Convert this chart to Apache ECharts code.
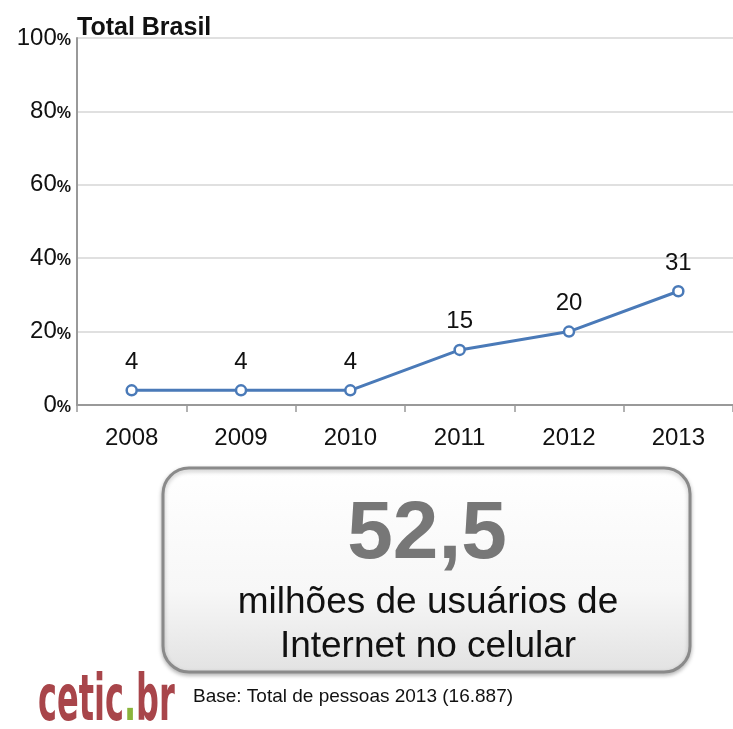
<!DOCTYPE html>
<html><head><meta charset="utf-8">
<script src="https://cdn.jsdelivr.net/npm/echarts@6/dist/echarts.min.js"></script>
<style>html,body{margin:0;padding:0;background:#fff}#c{width:733px;height:729px}</style>
</head><body><div id="c"></div>
<script>
const years = ['2008','2009','2010','2011','2012','2013'];
const values = [4, 4, 4, 15, 20, 31];
const yTicks = [0, 20, 40, 60, 80, 100];
const titleText = 'Total Brasil';
const bigNumber = '52,5';
const boxLine1 = 'milhões de usuários de';
const boxLine2 = 'Internet no celular';
const baseText = 'Base: Total de pessoas 2013 (16.887)';

const chart = echarts.init(document.getElementById('c'));
chart.setOption({
  animation: false,
  backgroundColor: '#fff',
  grid: { left: 77, top: 38, width: 668, height: 367, containLabel: false },
  xAxis: {
    type: 'category', data: years, boundaryGap: true,
    axisLine: { lineStyle: { color: '#999', width: 2 } },
    axisTick: { show: true, length: 7, inside: false, lineStyle: { color: '#999', width: 1.5 } },
    axisLabel: { color: '#111', fontSize: 24, fontFamily: 'Liberation Sans, Arial', margin: 21 }
  },
  yAxis: {
    type: 'value', min: 0, max: 100, interval: 20,
    axisLine: { show: true, lineStyle: { color: '#999', width: 2 } },
    axisTick: { show: false },
    splitLine: { lineStyle: { color: '#e0e0e0', width: 2 } },
    axisLabel: {
      margin: 6,
      formatter: v => '{n|' + v + '}{p|%}',
      rich: {
        n: { fontSize: 24, color: '#111', fontFamily: 'Liberation Sans, Arial' },
        p: { fontSize: 16, color: '#111', fontWeight: 'bold', fontFamily: 'Liberation Sans, Arial', padding: [5,0,0,0] }
      }
    }
  },
  series: [{
    type: 'line', data: values,
    symbol: 'circle', symbolSize: 10,
    itemStyle: { color: '#fff', borderColor: '#4a7ab8', borderWidth: 2.5 },
    lineStyle: { color: '#4a7ab8', width: 3 },
    label: { show: true, position: 'top', distance: 10, color: '#111', fontSize: 24, fontFamily: 'Liberation Sans, Arial' }
  }],
  graphic: [
    { type: 'text', left: 77, top: 16, style: { text: titleText, font: 'bold 25px "Liberation Sans", Arial', fill: '#111' } },
    { type: 'rect', shape: { x: 163, y: 468, width: 527, height: 204, r: 26 },
      style: { fill: new echarts.graphic.LinearGradient(0,0,0,1,[{offset:0,color:'#ffffff'},{offset:0.6,color:'#f7f7f7'},{offset:1,color:'#e2e2e2'}]),
               stroke: '#8a8a8a', lineWidth: 3, shadowBlur: 4, shadowColor: 'rgba(0,0,0,0.25)', shadowOffsetY: 2 } },
    { type: 'text', x: 427, y: 535, style: { text: bigNumber, font: 'bold 82px "Liberation Sans", Arial', fill: '#777777', textAlign: 'center', textVerticalAlign: 'middle' } },
    { type: 'text', x: 428, y: 603, style: { text: boxLine1, font: '37px "Liberation Sans", Arial', fill: '#111', textAlign: 'center', textVerticalAlign: 'middle' } },
    { type: 'text', x: 428, y: 647, style: { text: boxLine2, font: '37px "Liberation Sans", Arial', fill: '#111', textAlign: 'center', textVerticalAlign: 'middle' } },
    { type: 'text', x: 38, y: 703, scaleX: 0.5,
      style: { text: '{a|cetic}{g|.}{a|br}', textVerticalAlign: 'middle',
        rich: { a: { font: 'bold 64px "DejaVu Sans", Arial', fill: '#a8454a' }, g: { font: 'bold 64px "DejaVu Sans", Arial', fill: '#8ab43c' } } } },
    { type: 'text', x: 193, y: 697, style: { text: baseText, font: '19px "Liberation Sans", Arial', fill: '#111', textVerticalAlign: 'middle' } }
  ]
});
</script></body></html>
